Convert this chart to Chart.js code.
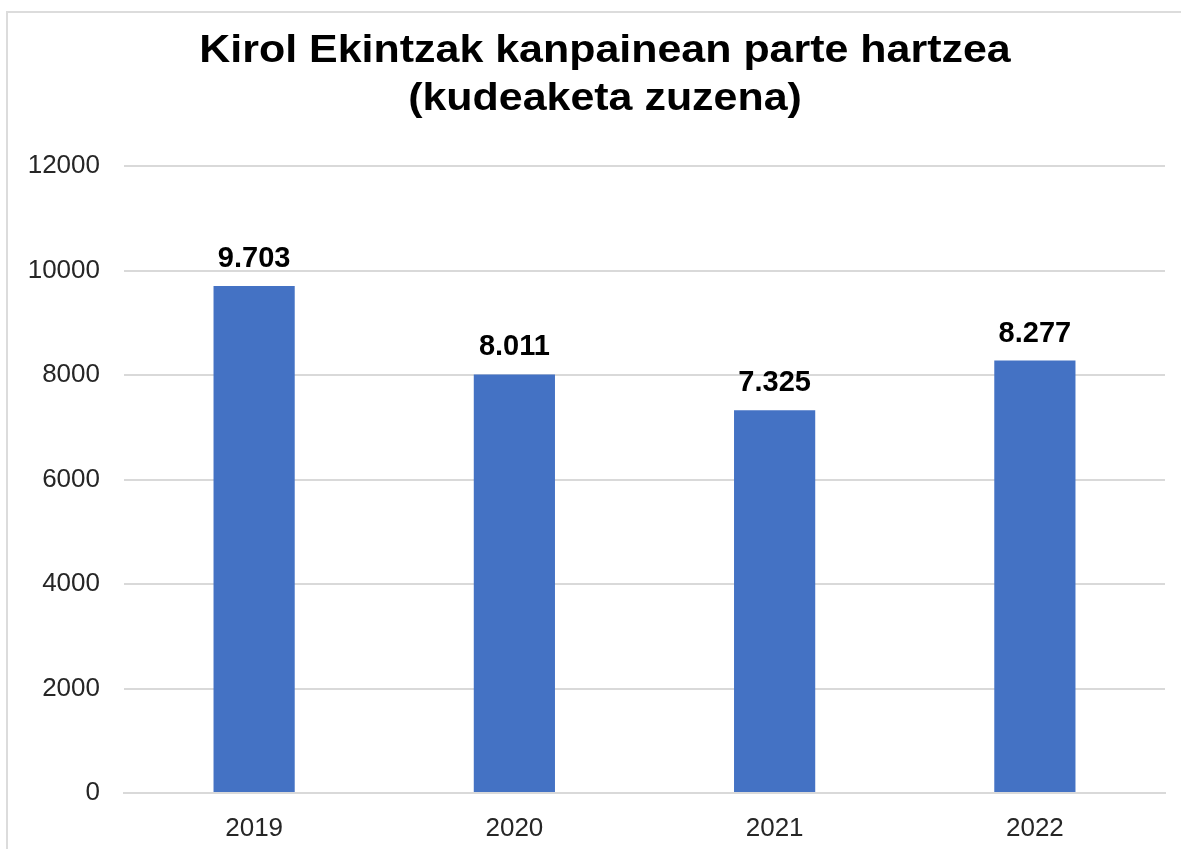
<!DOCTYPE html>
<html>
<head>
<meta charset="utf-8">
<script src="https://cdn.jsdelivr.net/npm/chart.js@4.4.0/dist/chart.umd.min.js"></script>
<style>
  html, body { margin: 0; padding: 0; background: #fff; }
  #wrap { position: relative; width: 1181px; height: 849px; overflow: hidden; }
  #marco { position: absolute; left: 6px; top: 11px; width: 1300px; height: 1000px; border: 2px solid #dcdcdc; box-sizing: border-box; }
  #grafico { position: absolute; left: 0; top: 0; }
</style>
</head>
<body>
<div id="wrap">
  <div id="marco"></div>
  <canvas id="grafico" width="1181" height="849"></canvas>
</div>
<script>
const urteak = ["2019", "2020", "2021", "2022"];
const parteHartzaileak = [9703, 8011, 7325, 8277];
const izenburua = ["Kirol Ekintzak kanpainean parte hartzea", "(kudeaketa zuzena)"];
const yMax = 12000;
const yPausoa = 2000;

const letraMota = "'Liberation Sans', Arial, sans-serif";

// izenburua: irudian letrak zabalxeagoak dira, beraz horizontalki luzatuta marrazten da
const izenburuPlugin = {
  id: "izenburua",
  afterDraw(chart) {
    const ctx = chart.ctx;
    ctx.save();
    ctx.font = "bold 38px " + letraMota;
    ctx.fillStyle = "#000";
    ctx.textAlign = "center";
    ctx.textBaseline = "alphabetic";
    const zabalera = 1.13;
    ctx.translate(605, 0);
    ctx.scale(zabalera, 1);
    ctx.fillText(izenburua[0], 0, 62);
    ctx.fillText(izenburua[1], 0, 110);
    ctx.restore();
  }
};

// balioak barren gainean: 9.703 formatuan
const etiketak = {
  id: "etiketak",
  afterDatasetsDraw(chart) {
    const ctx = chart.ctx;
    const meta = chart.getDatasetMeta(0);
    ctx.save();
    ctx.font = "bold 29px " + letraMota;
    ctx.fillStyle = "#000";
    ctx.textAlign = "center";
    ctx.textBaseline = "alphabetic";
    meta.data.forEach((bar, i) => {
      const testua = parteHartzaileak[i].toLocaleString("de-DE");
      ctx.fillText(testua, bar.x, bar.y - 19);
    });
    ctx.restore();
  }
};

const ctx = document.getElementById("grafico").getContext("2d");
new Chart(ctx, {
  type: "bar",
  data: {
    labels: urteak,
    datasets: [{
      data: parteHartzaileak,
      backgroundColor: "#4472C4",
      borderWidth: 0,
      categoryPercentage: 1,
      barPercentage: 0.312
    }]
  },
  options: {
    responsive: false,
    animation: false,
    layout: { padding: { top: 166, right: 16, bottom: 0, left: 0 } },
    plugins: {
      legend: { display: false },
      tooltip: { enabled: false },
      title: { display: false }
    },
    scales: {
      x: {
        grid: { display: false },
        border: { display: true, color: "#d9d9d9", width: 2 },
        ticks: { color: "#262626", font: { family: letraMota, size: 26 }, padding: 12 },
        afterFit(scale) { scale.height = 56; }
      },
      y: {
        min: 0,
        max: yMax,
        grid: { color: "#d9d9d9", lineWidth: 2, drawTicks: false },
        border: { display: false },
        ticks: {
          stepSize: yPausoa,
          color: "#262626",
          font: { family: letraMota, size: 26 },
          padding: 24,
          callback: (v) => String(v)
        },
        afterFit(scale) { scale.width = 124; }
      }
    }
  },
  plugins: [etiketak, izenburuPlugin]
});
</script>
</body>
</html>
